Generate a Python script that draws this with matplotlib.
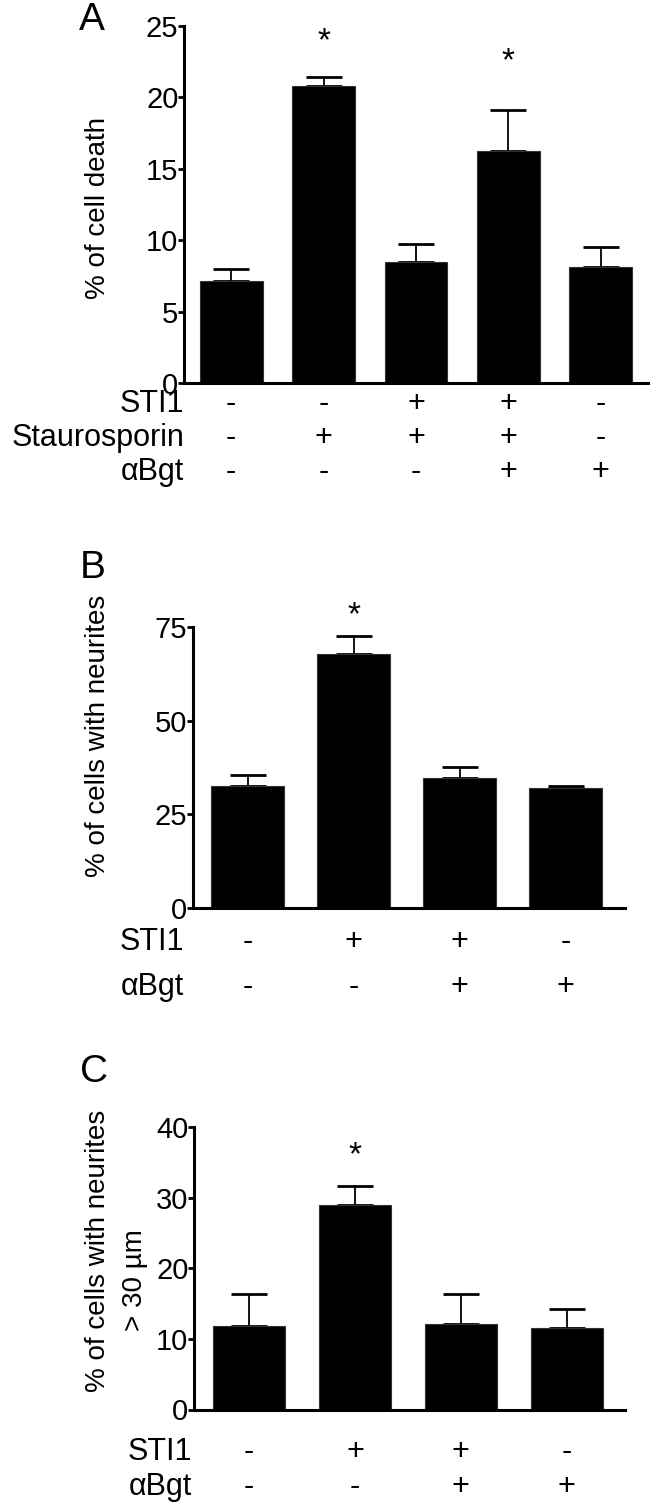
import matplotlib
matplotlib.use("Agg")
import matplotlib.pyplot as plt
from matplotlib.transforms import blended_transform_factory

plt.rcParams['font.family'] = ['Liberation Sans', 'DejaVu Sans']

# ---------------- data ----------------
# Panel A
a_means = [7.15, 20.8, 8.5, 16.25, 8.15]
a_sem = [0.8, 0.65, 1.2, 2.9, 1.4]
a_sti1 = ['-', '-', '+', '+', '-']
a_stauro = ['-', '+', '+', '+', '-']
a_abgt = ['-', '-', '-', '+', '+']
a_star_idx = [1, 3]
a_star_y = [23.9, 22.5]
a_yticks = [0, 5, 10, 15, 20, 25]

# Panel B
b_means = [32.5, 67.9, 34.7, 32.1]
b_sem = [2.9, 4.7, 3.0, 0.4]
b_sti1 = ['-', '+', '+', '-']
b_abgt = ['-', '-', '+', '+']
b_star_idx = [1]
b_star_y = [77.9]
b_yticks = [0, 25, 50, 75]

# Panel C
c_means = [11.8, 28.9, 12.05, 11.6]
c_sem = [4.5, 2.8, 4.25, 2.7]
c_sti1 = ['-', '+', '+', '-']
c_abgt = ['-', '-', '+', '+']
c_star_idx = [1]
c_star_y = [35.9]
c_yticks = [0, 10, 20, 30, 40]

W, H = 650, 1505
fig = plt.figure(figsize=(W / 100, H / 100), dpi=100)


def fx(px):
    return px / W


def fy(py):
    return 1 - py / H


def panel(rect_px, means, sem, yticks, star_idx, star_y, xlim, width):
    l, t, r, b = rect_px
    ax = fig.add_axes([fx(l), fy(b), fx(r) - fx(l), fy(t) - fy(b)])
    x = list(range(len(means)))
    ax.bar(x, means, width=width, color='black', edgecolor='#333333', linewidth=0.8, zorder=2)
    ax.errorbar(x, means, yerr=[[0] * len(sem), sem], fmt='none', ecolor='black',
                elinewidth=1.3, capsize=13, capthick=2.0, zorder=1)
    ax.set_xlim(*xlim)
    ax.set_ylim(yticks[0], yticks[-1])
    ax.set_yticks(yticks)
    ax.set_yticklabels([str(v) for v in yticks])
    ax.set_xticks([])
    for s in ['top', 'right']:
        ax.spines[s].set_visible(False)
    for s in ['left', 'bottom']:
        ax.spines[s].set_linewidth(2.2)
    ax.tick_params(axis='y', length=4, width=2, labelsize=21, pad=0)
    for i, yy in zip(star_idx, star_y):
        ax.text(i, yy, '*', ha='center', va='center', fontsize=24, clip_on=False)
    return ax


def rows(ax, labels, signs_list, ys_px, label_right_px):
    tr = blended_transform_factory(ax.transData, fig.transFigure)
    for lab, signs, ypx in zip(labels, signs_list, ys_px):
        fig.text(fx(label_right_px), fy(ypx), lab, ha='right', va='center', fontsize=22)
        for i, s in enumerate(signs):
            ax.text(i, fy(ypx), s, transform=tr, ha='center', va='center', fontsize=22)


# Panel A
axA = panel((184, 26, 648, 383), a_means, a_sem, a_yticks, a_star_idx, a_star_y,
            (-0.51, 4.51), 0.68)
rows(axA, ['STI1', 'Staurosporin', 'αBgt'], [a_sti1, a_stauro, a_abgt],
     [404, 438, 472], 184)
fig.text(fx(98), fy(208), '% of cell death', rotation=90, ha='center', va='center', fontsize=20)
fig.text(fx(79), fy(20), 'A', ha='left', va='center', fontsize=28)

# Panel B
axB = panel((193, 627, 625, 908), b_means, b_sem, b_yticks, b_star_idx, b_star_y,
            (-0.514, 3.56), 0.69)
rows(axB, ['STI1', 'αBgt'], [b_sti1, b_abgt], [942, 987], 184)
fig.text(fx(98), fy(736), '% of cells with neurites', rotation=90, ha='center', va='center',
         fontsize=20)
fig.text(fx(80), fy(568), 'B', ha='left', va='center', fontsize=28)

# Panel C
axC = panel((194, 1127, 625, 1409.5), c_means, c_sem, c_yticks, c_star_idx, c_star_y,
            (-0.52, 3.55), 0.68)
rows(axC, ['STI1', 'αBgt'], [c_sti1, c_abgt], [1452, 1487], 192)
fig.text(fx(98), fy(1251), '% of cells with neurites', rotation=90, ha='center', va='center',
         fontsize=20)
fig.text(fx(135), fy(1280), '> 30 µm', rotation=90, ha='center', va='center', fontsize=20)
fig.text(fx(80), fy(1072), 'C', ha='left', va='center', fontsize=28)

fig.savefig('out.png', dpi=100, facecolor='white')
